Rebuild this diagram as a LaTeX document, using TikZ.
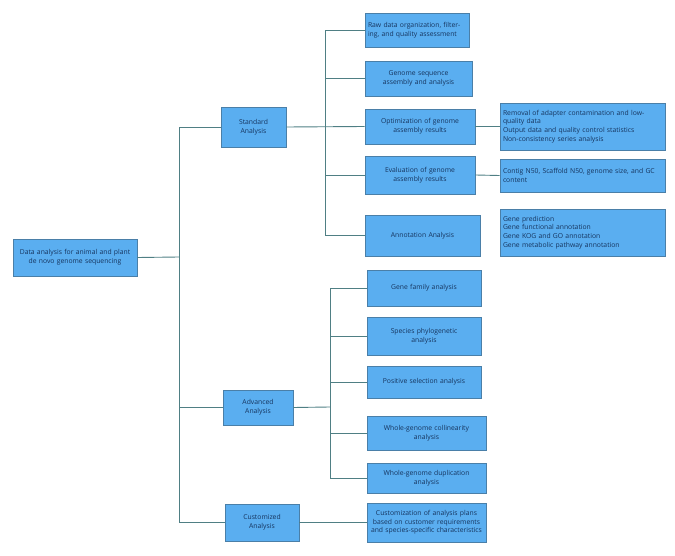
\documentclass[tikz,border=0pt]{standalone}
\usepackage{fontspec}
\setmainfont{Open Sans}
\begin{document}
\begin{tikzpicture}[x=1pt,y=1pt,
  box/.style={draw=boxline,fill=boxfill,line width=0.8pt,text=txt,font=\fontsize{6.8}{8.6}\selectfont,inner sep=2pt,align=center},
  lbox/.style={box,align=left},
  conn/.style={draw=lnk,line width=0.9pt}]
\definecolor{boxfill}{HTML}{5AAEF0}
\definecolor{boxline}{HTML}{4A7FA8}
\definecolor{lnk}{HTML}{4F7F84}
\definecolor{txt}{HTML}{16345E}
\useasboundingbox (0,0) rectangle (675,-556);
\newcommand{\bx}[7]{\node[#1,minimum width={#4-#3},minimum height={#6-#5},text width={#4-#3-6}] (#2) at ({(#3+#4)/2},{-(#5+#6)/2}) {#7};}
\bx{box}{root}{13}{137}{239}{276}{Data analysis for animal and plant de novo genome sequencing}
\bx{box}{std}{221}{286}{107}{147}{Standard\\Analysis}
\bx{box}{adv}{223}{293}{390}{425}{Advanced\\Analysis}
\bx{box}{cus}{225}{299}{504}{541}{Customized\\Analysis}
\bx{lbox}{raw}{365}{469}{13}{47}{Raw data organization, filtering, and quality assessment}
\bx{box}{gsa}{365}{472}{61}{96}{Genome sequence\\assembly and analysis}
\bx{box}{opt}{365}{475}{109}{144}{Optimization of genome assembly results}
\bx{box}{eva}{365}{475}{156}{194}{Evaluation of genome assembly results}
\bx{box}{ann}{365}{480}{215}{256}{Annotation Analysis}
\bx{lbox}{rem}{500}{665}{103}{150}{Removal of adapter contamination and low-quality data\\Output data and quality control statistics\\Non-consistency series analysis}
\bx{lbox}{con}{500}{665}{159}{192}{Contig N50, Scaffold N50, genome size, and GC content}
\bx{lbox}{gen}{500}{665}{209}{256}{Gene prediction\\Gene functional annotation\\Gene KOG and GO annotation\\Gene metabolic pathway annotation}
\bx{box}{gfa}{367}{481}{270}{306}{Gene family analysis}
\bx{box}{spe}{367}{481}{317}{355}{Species phylogenetic\\analysis}
\bx{box}{pos}{367}{481}{366}{398}{Positive selection analysis}
\bx{box}{col}{367}{486}{416}{450}{Whole-genome collinearity\\analysis}
\bx{box}{dup}{367}{486}{463}{493}{Whole-genome duplication\\analysis}
\bx{box}{cub}{367}{486}{503}{542}{Customization of analysis plans based on customer requirements and species-specific characteristics}
\coordinate (tr) at (179,-257);
\coordinate (sb) at (325,-127);
\coordinate (ab) at (330,-407);
\draw[conn] (root.east) -- (tr);
\foreach \n in {std,adv,cus} \draw[conn] (\n.west) -| (tr);
\draw[conn] (std.east) -- (opt.west);
\foreach \n in {raw,gsa,eva,ann} \draw[conn] (\n.west) -| (sb);
\draw[conn] (adv.east) -- (ab);
\foreach \n in {gfa,spe,pos,col,dup} \draw[conn] (\n.west) -| (ab);
\draw[conn] (cus.east) -- (cub.west);
\draw[conn] (opt.east) -- (rem.west);
\draw[conn] (eva.east) -- (con.west);
\end{tikzpicture}
\end{document}
